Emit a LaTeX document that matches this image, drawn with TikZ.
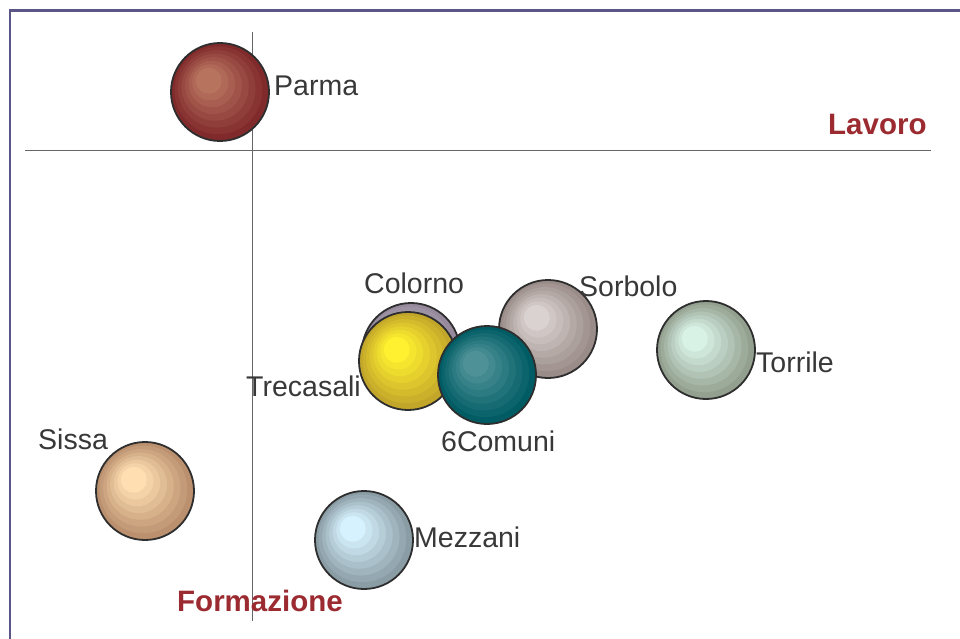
\documentclass[tikz,border=0pt]{standalone}
\usepackage{fontspec}
\setmainfont{Liberation Sans}
\definecolor{parmaB}{HTML}{802A2C}\definecolor{parmaL}{HTML}{B8735F}
\definecolor{colB}{HTML}{968A9C}\definecolor{colL}{HTML}{C8C0CE}
\definecolor{treB}{HTML}{C2A62A}\definecolor{treL}{HTML}{FFF030}
\definecolor{comB}{HTML}{005C64}\definecolor{comL}{HTML}{4E9298}
\definecolor{sorB}{HTML}{9A8C88}\definecolor{sorL}{HTML}{DAD2D0}
\definecolor{torB}{HTML}{93A08F}\definecolor{torL}{HTML}{D8F2E6}
\definecolor{sisB}{HTML}{BA906E}\definecolor{sisL}{HTML}{FFDFB2}
\definecolor{mezB}{HTML}{8A9CA4}\definecolor{mezL}{HTML}{D6F2FE}
\definecolor{frameC}{HTML}{5A5688}
\definecolor{txtC}{HTML}{383838}
\definecolor{redT}{HTML}{9B2B30}
\tikzset{
  bub/.style={circle, draw=black!82, line width=1.8pt, minimum size=98pt, inner sep=0pt},
  lab/.style={inner sep=0pt, text=txtC, font=\fontsize{28.5}{34}\selectfont},
  blab/.style={inner sep=0pt, text=redT, font=\bfseries\fontsize{29.5}{34}\selectfont},
  axisline/.style={draw=black!60, line width=1pt},
  frameline/.style={draw=frameC, line width=2.4pt}
}
\newcommand\mybubble[5]{%
  \foreach \i in {0,...,7}{%
    \pgfmathtruncatemacro\f{\i*100/7}%
    \pgfmathsetmacro\rr{49*(1-\i*0.105)}%
    \fill[#5!\f!#4] ({#2-1.6*\i},{#3-1.6*\i}) circle[radius=\rr pt];
  }%
  \node[bub] (#1) at (#2,#3) {};
}
\begin{document}
\begin{tikzpicture}[x=1pt,y=-1pt]
\useasboundingbox (0,0) rectangle (960,639);
\fill[white] (0,0) rectangle (960,639);
% frame
\coordinate (fbl) at (10,639);
\coordinate (ftl) at (10,10.5);
\coordinate (ftr) at (960,10.5);
\draw[frameline] (fbl) -- (ftl) -- (ftr);
% axes
\coordinate (hl) at (25,151);
\coordinate (hr) at (931,151);
\coordinate (vt) at (252,32);
\coordinate (vb) at (252,621);
\draw[axisline] (hl) -- (hr);
\draw[axisline] (vt) -- (vb);
% bubbles
\mybubble{parma}{220}{92}{parmaB}{parmaL}
\mybubble{sorbolo}{548}{329}{sorB}{sorL}
\mybubble{colorno}{411}{352}{colB}{colL}
\mybubble{trecasali}{408}{361}{treB}{treL}
\mybubble{comuni}{487}{375}{comB}{comL}
\mybubble{torrile}{706}{350}{torB}{torL}
\mybubble{sissa}{145}{491}{sisB}{sisL}
\mybubble{mezzani}{364}{540}{mezB}{mezL}
% labels
\node[lab, anchor=base west] (lparma) at (274,96) {Parma};
\node[lab, anchor=base west] (lcolorno) at (364,293) {Colorno};
\node[lab, anchor=base west] (lsorbolo) at (579,296) {Sorbolo};
\node[lab, anchor=base west] (ltorrile) at (756,372) {Torrile};
\node[lab, anchor=base east] (ltrecasali) at (361,396) {Trecasali};
\node[lab, anchor=base west] (lcomuni) at (441,451) {6Comuni};
\node[lab, anchor=base west] (lsissa) at (38,449) {Sissa};
\node[lab, anchor=base west] (lmezzani) at (414,547) {Mezzani};
\node[blab, anchor=base west] (llavoro) at (828,135) {Lavoro};
\node[blab, anchor=base west] (lformazione) at (177,611) {Formazione};
\end{tikzpicture}
\end{document}
